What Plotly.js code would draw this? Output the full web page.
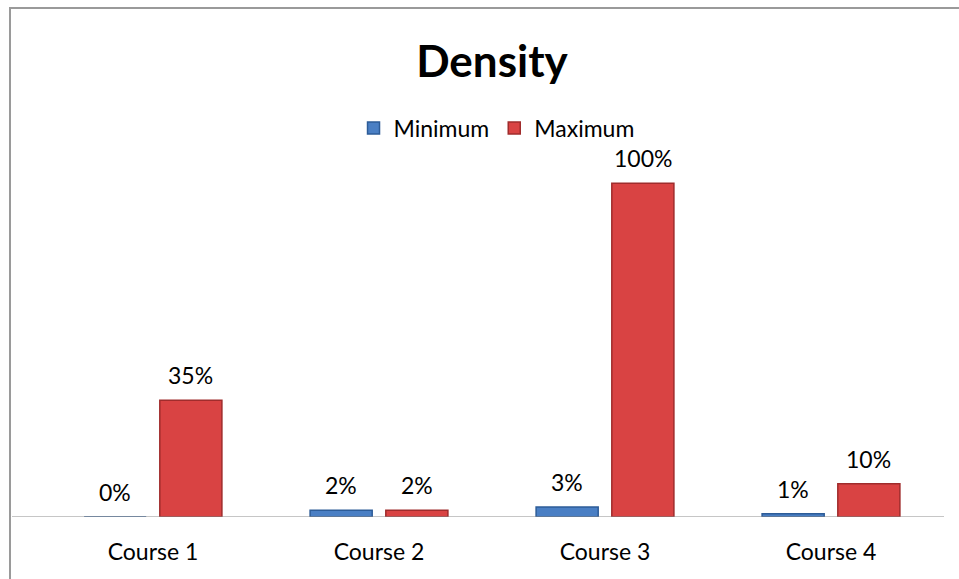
<!DOCTYPE html>
<html>
<head>
<meta charset="utf-8">
<script src="https://cdn.plot.ly/plotly-3.0.1.min.js"></script>
<style>
  html, body { margin: 0; padding: 0; background: #ffffff; }
  #chart { width: 959px; height: 579px; position: relative; }
  #frame {
    position: absolute; left: 9px; top: 7px; width: 960px; height: 600px;
    border-left: 2px solid #9a9a9a; border-top: 2px solid #9a9a9a;
    pointer-events: none; z-index: 5;
  }
</style>
</head>
<body>
<div id="chart"><div id="frame"></div></div>
<script>
// Course categories and the two density series (fractions)
const courses = ['Course 1', 'Course 2', 'Course 3', 'Course 4'];
const minimumValues = [0.00, 0.02, 0.03, 0.01];
const maximumValues = [0.35, 0.02, 1.00, 0.10];
const minimumLabels = ['0%', '2%', '3%', '1%'];
const maximumLabels = ['35%', '2%', '100%', '10%'];

const FONT = 'Lato, "Open Sans", sans-serif';
const LABEL_SIZE = 23;

const W = 959, H = 579;
const MARGIN = { l: 40, r: 15, t: 150, b: 62 };
const plotWidth = W - MARGIN.l - MARGIN.r;

// Grouped-bar geometry: two bars share each category slot
const BARGAP = 0.33;
const BARGROUPGAP = 0.18;
const slot = (1 - BARGAP) / 2;

const series = [
  { name: 'Minimum', values: minimumValues, labels: minimumLabels,
    color: '#4a7fc4', edge: '#2d5c98', side: -1 },
  { name: 'Maximum', values: maximumValues, labels: maximumLabels,
    color: '#d94343', edge: '#a02c2c', side: 1 }
];

const traces = series.map(s => ({
  type: 'bar', name: s.name, x: courses, y: s.values,
  marker: { color: s.color, line: { color: s.edge, width: 1.5 } },
  hoverinfo: 'skip'
}));

// Value labels sit above each bar, centred on its slot in the group
const annotations = [];
series.forEach(s => {
  s.values.forEach((v, i) => {
    annotations.push({
      xref: 'x', yref: 'y', x: i + s.side * slot / 2, y: v,
      text: s.labels[i], showarrow: false,
      xanchor: 'center', yanchor: 'middle', yshift: 25,
      font: { family: FONT, size: LABEL_SIZE, color: '#000000' }
    });
  });
});

const layout = {
  width: W, height: H,
  margin: MARGIN,
  paper_bgcolor: '#ffffff', plot_bgcolor: '#ffffff',
  font: { family: FONT, size: LABEL_SIZE, color: '#000000' },
  title: {
    text: '<b>Density</b>', x: 0.513, xanchor: 'center',
    y: 0.893, yanchor: 'middle', yref: 'container',
    font: { family: FONT, size: 44, color: '#000000' }
  },
  barmode: 'group', bargap: BARGAP, bargroupgap: BARGROUPGAP,
  showlegend: true,
  legend: {
    orientation: 'h', x: 0.505, xanchor: 'center', y: 1.06, yanchor: 'middle',
    font: { family: FONT, size: LABEL_SIZE, color: '#000000' },
    itemwidth: 30, traceorder: 'normal'
  },
  xaxis: {
    showline: false, ticks: '', showgrid: false, zeroline: false,
    ticklabelstandoff: 19,
    tickfont: { family: FONT, size: LABEL_SIZE, color: '#000000' }
  },
  yaxis: {
    range: [0, 1.1], visible: false, showgrid: false, zeroline: false
  },
  // category axis baseline, running across the full chart area
  shapes: [{
    type: 'line', xref: 'paper', yref: 'y',
    x0: -28 / plotWidth, x1: 1, y0: 0, y1: 0,
    line: { color: '#8c8c8c', width: 1 }, layer: 'above'
  }],
  annotations: annotations
};

Plotly.newPlot('chart', traces, layout, { displayModeBar: false, staticPlot: true });
</script>
</body>
</html>
